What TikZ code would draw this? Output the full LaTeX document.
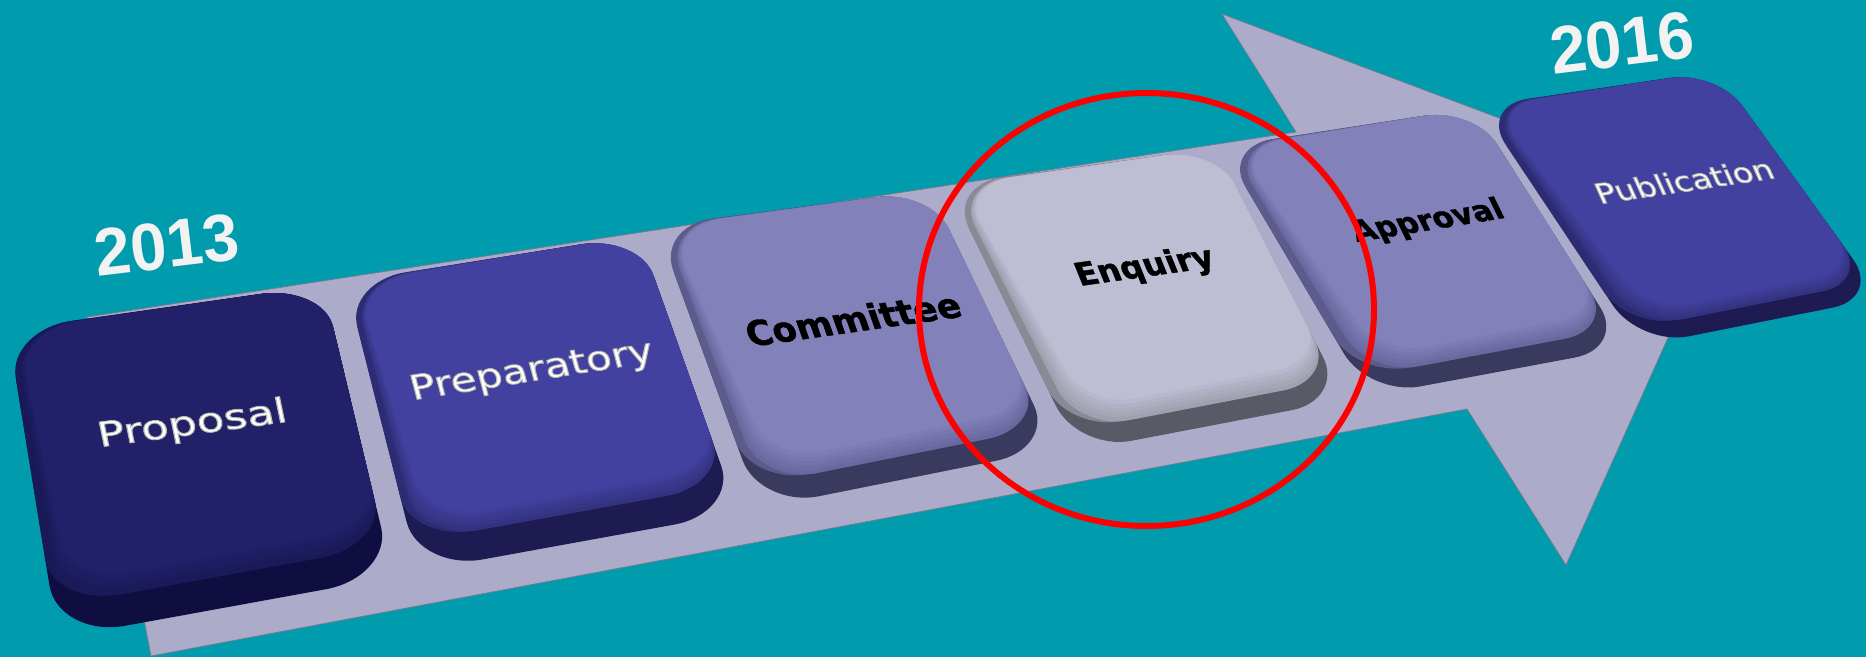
\documentclass[tikz,border=0pt]{standalone}
\usepackage{fontspec}
\setmainfont{DejaVu Sans}
\newfontfamily\heavyfont[FakeBold=1.2]{DejaVu Sans Bold}
\newfontfamily\yearfont{Liberation Sans}
\usetikzlibrary{calc,shapes.geometric}
\definecolor{bgteal}{HTML}{009BAD}
\definecolor{arrowfill}{HTML}{ACACCA}
\definecolor{navyTop}{HTML}{212069}\definecolor{navyBev}{HTML}{1A1959}\definecolor{navySide}{HTML}{1A1958}\definecolor{navyDark}{HTML}{100D40}
\definecolor{blueTop}{HTML}{4241A0}\definecolor{blueBev}{HTML}{33327F}\definecolor{blueSide}{HTML}{2C2B74}\definecolor{blueDark}{HTML}{1D1B52}
\definecolor{violTop}{HTML}{8281BA}\definecolor{violBev}{HTML}{6A699F}\definecolor{violSide}{HTML}{5C5B8C}\definecolor{violDark}{HTML}{3A3A5E}
\definecolor{paleTop}{HTML}{BDBDD4}\definecolor{paleBev}{HTML}{A0A0B0}\definecolor{paleSide}{HTML}{8A8A96}\definecolor{paleDark}{HTML}{5A5A66}
\definecolor{yeartext}{HTML}{F2F2F2}
\tikzset{
  lightlabel/.style={text=white,inner sep=0pt,transform shape},
  darklabel/.style={text=black,inner sep=0pt,transform shape},
  yearlabel/.style={text=yeartext,inner sep=0pt,transform shape},
}
\newcommand{\edged}[1]{\special{pdf:code 2 Tr 0.9 w 0.72 0.72 0.7 RG}#1\special{pdf:code 0 Tr}}
\newcommand{\fxa}{0.20}\newcommand{\fxb}{0.09}
\newcommand{\fya}{0.17}\newcommand{\fyb}{0.0765}
% rounded perspective quadrilateral through four named corners
\newcommand{\quadshape}[5]{%
  \fill[#5] ($(#1)!\fya!(#4)$) .. controls ($(#1)!\fyb!(#4)$) and ($(#1)!\fxb!(#2)$) .. ($(#1)!\fxa!(#2)$)
   -- ($(#2)!\fxa!(#1)$) .. controls ($(#2)!\fxb!(#1)$) and ($(#2)!\fyb!(#3)$) .. ($(#2)!\fya!(#3)$)
   -- ($(#3)!\fya!(#2)$) .. controls ($(#3)!\fyb!(#2)$) and ($(#3)!\fxb!(#4)$) .. ($(#3)!\fxa!(#4)$)
   -- ($(#4)!\fxa!(#3)$) .. controls ($(#4)!\fxb!(#3)$) and ($(#4)!\fyb!(#1)$) .. ($(#4)!\fya!(#1)$) -- cycle;}
% button: #1 palette, #2-#5 corners TL TR BR BL, #6 dark band, #7 bevel band, #8 side inset
\newcommand{\keybutton}[8]{%
  \coordinate (TL) at (#2);\coordinate (TR) at (#3);\coordinate (BR) at (#4);\coordinate (BL) at (#5);
  \coordinate (BRa) at ($(BR)!#6pt!(TR)$);
  \coordinate (BLa) at ($(BL)!#6pt!(TL)$);
  \coordinate (TLb) at ($(TL)+(#8,0)$);
  \coordinate (BLb) at ($(BLa)+(1.6*#8,-0.2*#8)$);
  \coordinate (BRc) at ($(BRa)!#7pt!(TR)$);
  \coordinate (TLc) at ($(TLb)+(0.8*#8,0)$);
  \coordinate (BLc) at ($(BLb)+(1.6*#8,-#7)$);
  \quadshape{TL}{TR}{BR}{BL}{#1Dark}
  \quadshape{TL}{TR}{BRa}{BLa}{#1Side}
  \foreach \t in {0,0.2,0.4,0.6,0.8,1}{%
    \pgfmathsetmacro{\pc}{100*\t}
    \coordinate (A) at ($(TLb)!\t!(TLc)$);
    \coordinate (C) at ($(BRa)!\t!(BRc)$);
    \coordinate (D) at ($(BLb)!\t!(BLc)$);
    \quadshape{A}{TR}{C}{D}{#1Top!\pc!#1Bev}
  }%
}
\begin{document}
\begin{tikzpicture}[x=1pt,y=-1pt]
\useasboundingbox (0,0) rectangle (1866,657);
\clip (0,0) rectangle (1866,657);
\fill[bgteal] (0,0) rectangle (1866,657);
% arrow
\coordinate (a1) at (87,317);\coordinate (a2) at (1296,132);\coordinate (a3) at (1222,14);
\coordinate (a4) at (1728,204);\coordinate (a5) at (1566,565);\coordinate (a6) at (1467,409);
\coordinate (a7) at (151,656);
\draw[draw=arrowfill!70!black,line width=0.7pt,fill=arrowfill] (a1)--(a2)--(a3)--(a4)--(a5)--(a6)--(a7)--cycle;
% buttons
\keybutton{navy}{8,330}{323,285}{393,577}{58,638}{32}{22}{5}
\keybutton{blue}{346,282}{639,235}{738,513}{419,571}{30}{20}{5}
\keybutton{viol}{657,226}{930,190}{1055,449}{760,508}{24}{22}{6}
\keybutton{pale}{948,185}{1216,148}{1345,400}{1078,451}{22}{22}{6}
\keybutton{viol}{1222,147}{1474,108}{1626,348}{1369,396}{22}{20}{7}
\keybutton{blue}{1480,106}{1717,71}{1881,298}{1640,346}{20}{16}{6}
% labels
\node[lightlabel,rotate=7.7,xslant=-0.07,xscale=1.32,font=\fontsize{34}{34}\selectfont] (proposal) at (192.5,425)
  {\edged{Proposal}};
\node[lightlabel,rotate=9.1,xslant=-0.1,xscale=1.23,font=\fontsize{34}{34}\selectfont] (preparatory) at (532,372)
  {\edged{Preparatory}};
\node[darklabel,rotate=8.1,xslant=-0.2,font=\heavyfont\fontsize{35}{35}\selectfont] (committee) at (853,319) {Committee};
\node[darklabel,rotate=8,xslant=-0.25,font=\heavyfont\fontsize{32}{32}\selectfont] (enquiry) at (1145,268) {Enquiry};
\node[darklabel,rotate=9.3,xslant=-0.3,font=\heavyfont\fontsize{30}{30}\selectfont] (approval) at (1428,222) {Approval};
\node[lightlabel,rotate=8.4,xslant=-0.28,xscale=1.16,font=\fontsize{28}{28}\selectfont] (publication) at (1684,181)
  {\edged{Publication}};
\node[yearlabel,rotate=6.8,xscale=0.97,font=\yearfont\bfseries\fontsize{67}{67}\selectfont] (y2013) at (166.5,245) {2013};
\node[yearlabel,rotate=7,xscale=0.97,font=\yearfont\bfseries\fontsize{67}{67}\selectfont] (y2016) at (1622,43) {2016};
% red ring
\node[draw=red,line width=6pt,ellipse,minimum width=455pt,minimum height=433pt,inner sep=0pt] (ring) at (1146.5,309.5) {};
\end{tikzpicture}
\end{document}
